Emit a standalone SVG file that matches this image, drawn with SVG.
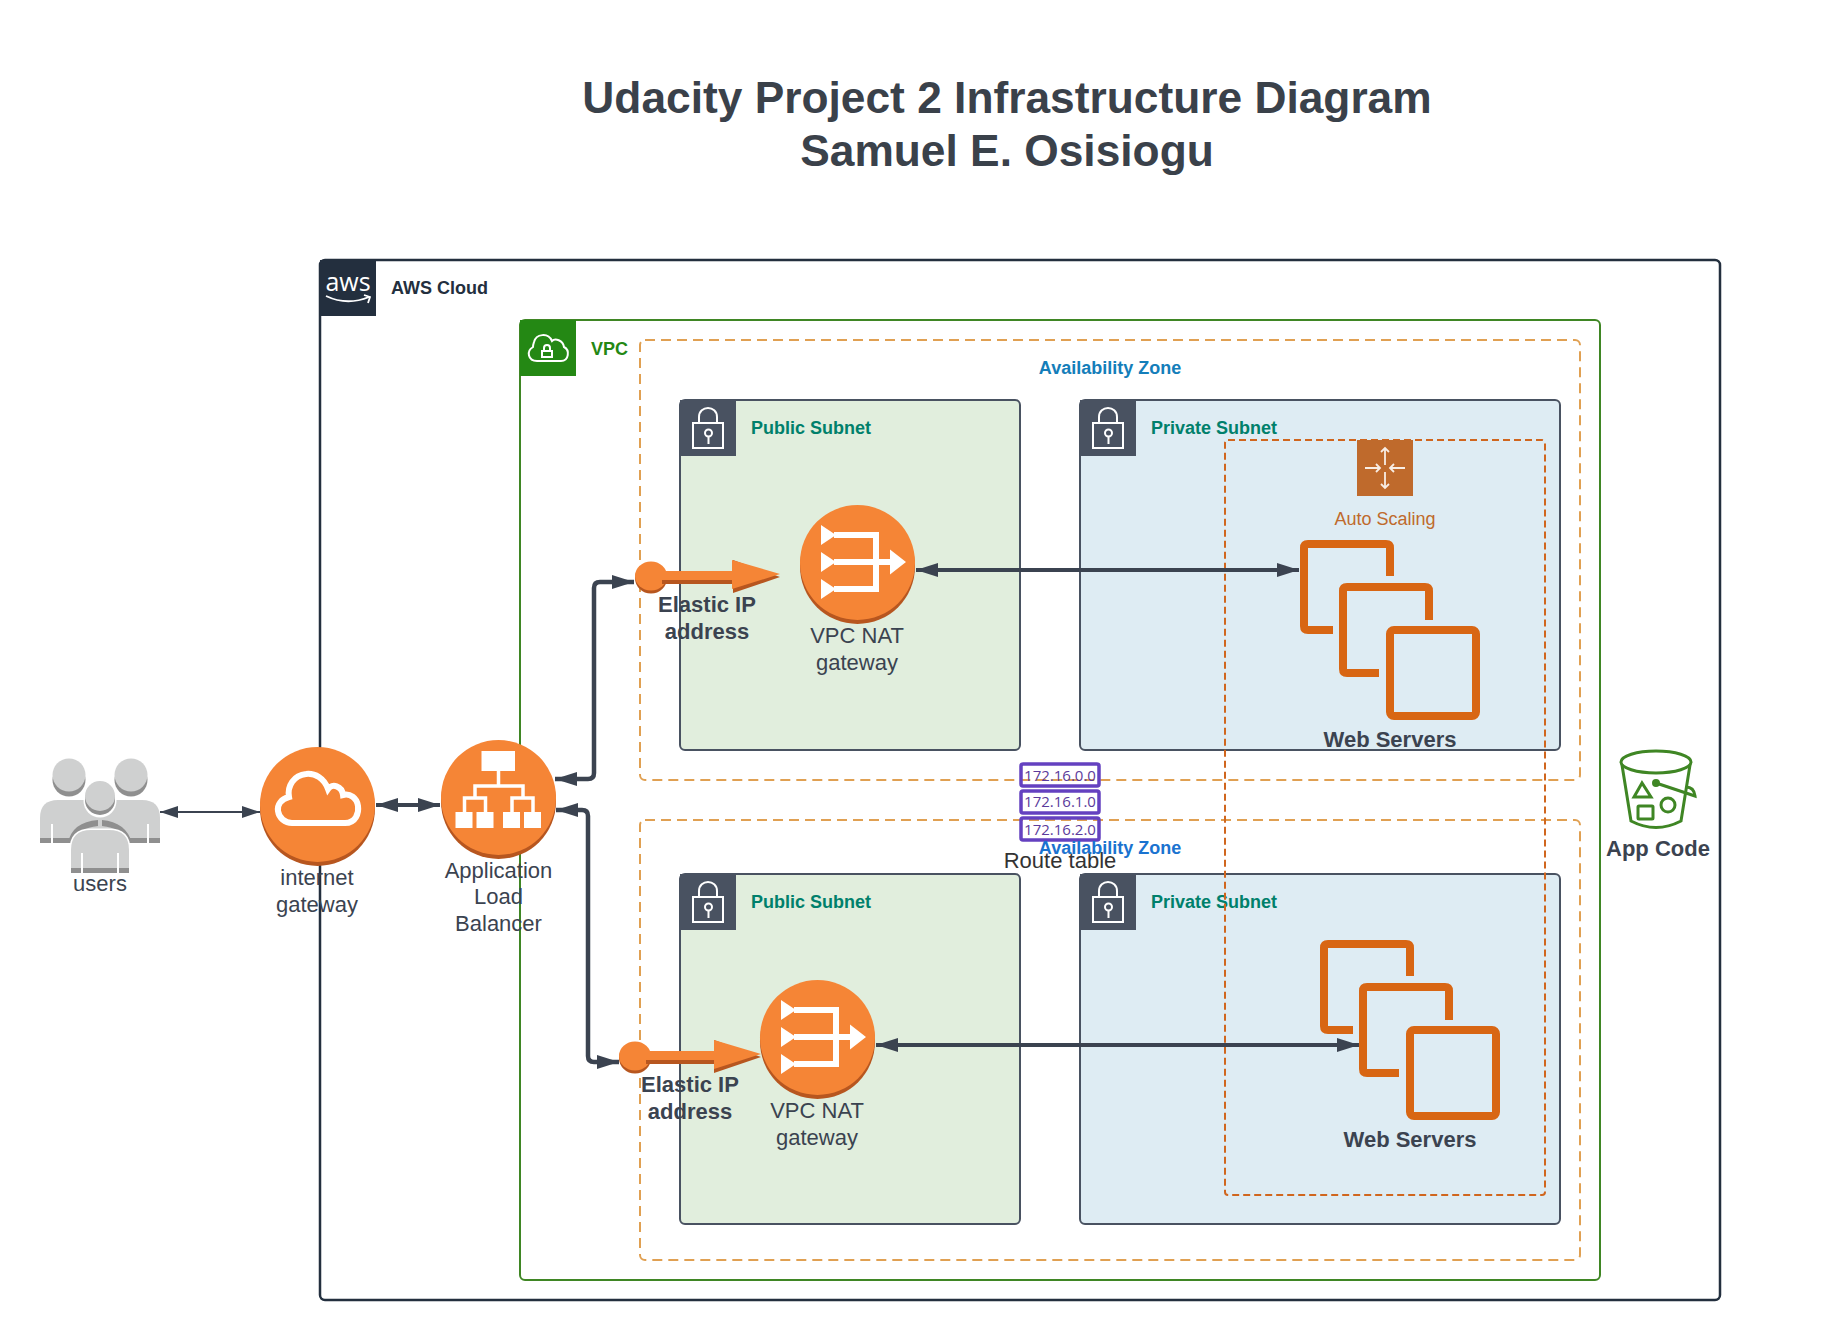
<svg xmlns="http://www.w3.org/2000/svg" xmlns:xlink="http://www.w3.org/1999/xlink" width="1831" height="1340" viewBox="0 0 1831 1340">
<style>
text{font-family:"Liberation Sans",Arial,sans-serif;fill:#3B4350}
.title{font-size:44.300px;font-weight:700;text-anchor:middle;fill:#3A414A}
.l{font-size:22px;text-anchor:middle}
.b{font-size:22px;font-weight:700;text-anchor:middle}
.g{font-size:18px;font-weight:700}
.sub{fill:#00806B}
.pub{fill:#E1EEDD;stroke:#495261;stroke-width:2}
.pri{fill:#DEECF3;stroke:#495261;stroke-width:2}
.az{fill:none;stroke:#E0A052;stroke-width:2;stroke-dasharray:10 6}
.tab{fill:#495261}
.ic{fill:none;stroke:#fff;stroke-width:2}
.rt{fill:none;stroke:#6441C0;stroke-width:3.500}
.rtt{font-family:"Open Sans","Liberation Sans",sans-serif;font-size:15px;text-anchor:middle;fill:#5B3A9B}
.ec2{fill:none;stroke:#D86613;stroke-width:8}
.conn{fill:none;stroke:#3B4350;stroke-linejoin:round}
.o{fill:#F58536}
.s{fill:#B7561F}
.w{fill:#fff}
.wl{fill:none;stroke:#fff;stroke-width:6}
.wa{fill:none;stroke:#fff;stroke-width:3.500}
.a{fill:none;stroke:#F8EDE4;stroke-width:1.800}
</style>
<defs>
<marker id="hs" viewBox="0 0 18 12" refX="18" refY="6" markerWidth="18" markerHeight="12" markerUnits="userSpaceOnUse" orient="auto-start-reverse"><path d="M0 0L18 6L0 12Z" fill="#3B4350"/></marker>
<marker id="hm" viewBox="0 0 22 14" refX="22" refY="7" markerWidth="22" markerHeight="14" markerUnits="userSpaceOnUse" orient="auto-start-reverse"><path d="M0 0L22 7L0 14Z" fill="#3B4350"/></marker>
<g id="lock"><rect class="tab" width="56" height="56"/><rect class="ic" x="13" y="23" width="30" height="25"/><path class="ic" d="M19 23V17C19 5 37 5 37 17V23"/><circle class="ic" cx="28.500" cy="33" r="3.500"/><path class="ic" d="M28.500 36.500V44"/></g>
<g id="ec2"><path class="ec2" d="M1333 630H1308Q1304 630 1304 626V548Q1304 544 1308 544H1386Q1390 544 1390 548V576"/><path class="ec2" d="M1379 673H1347Q1343 673 1343 669V591Q1343 587 1347 587H1425Q1429 587 1429 591V620"/><rect class="ec2" x="1390" y="630" width="86" height="86" rx="4"/></g>
<g id="natg"><circle class="s" cx="857.500" cy="566.500" r="57.500"/><circle class="o" cx="857.500" cy="562.500" r="57.500"/><path class="w" d="M821 525L836 535L821 545ZM821 552L836 562L821 572ZM821 579L836 589L821 599ZM890 549.500L906 562L890 574.500Z"/><path class="wl" d="M834 535H876V589H834M834 562H892"/></g>
</defs>
<g id="title"><text class="title" x="1007" y="113">Udacity Project 2 Infrastructure Diagram</text><text class="title" x="1007" y="166">Samuel E. Osisiogu</text></g>
<g id="aws-cloud"><rect x="320" y="260" width="1400" height="1040" rx="5" fill="#fff" stroke="#232F3E" stroke-width="2.500"/><rect x="320" y="260" width="56" height="56" fill="#232F3E"/><text x="348" y="291" style="font-family:'Open Sans',sans-serif;font-size:25px;fill:#fff;text-anchor:middle">aws</text><path d="M326 296Q347 306 369 297M364 295L370 297L368 303" fill="none" stroke="#fff" stroke-width="1.800"/><text class="g" x="391" y="294" style="fill:#232F3E">AWS Cloud</text></g>
<g id="vpc"><rect x="520" y="320" width="1080" height="960" rx="5" fill="#fff" stroke="#3F8624" stroke-width="2"/><rect x="520" y="320" width="56" height="56" fill="#248814"/><path class="ic" d="M537 361H561C569 361 570 350 564 347C563 340 555 338 552 341C548 332 536 334 534 342C533 345 533 346 533 347C526 351 528 361 537 361Z"/><rect class="ic" x="542" y="351" width="10" height="6"/><path class="ic" d="M544 351V348C544 344 550 344 550 348V351"/><text class="g" x="591" y="355" style="fill:#248814">VPC</text></g>
<g id="az1"><rect class="az" x="640" y="340" width="940" height="440" rx="5"/><text class="g" x="1110" y="374" style="fill:#147EBA;text-anchor:middle">Availability Zone</text></g>
<g id="az2"><rect class="az" x="640" y="820" width="940" height="440" rx="5"/></g>
<g id="public1"><rect class="pub" x="680" y="400" width="340" height="350" rx="5"/><use xlink:href="#lock" x="680" y="400"/><text class="g sub" x="751" y="434">Public Subnet</text></g>
<g id="private1"><rect class="pri" x="1080" y="400" width="480" height="350" rx="5"/><use xlink:href="#lock" x="1080" y="400"/><text class="g sub" x="1151" y="434">Private Subnet</text></g>
<g id="public2"><rect class="pub" x="680" y="874" width="340" height="350" rx="5"/><use xlink:href="#lock" x="680" y="874"/><text class="g sub" x="751" y="908">Public Subnet</text></g>
<g id="private2"><rect class="pri" x="1080" y="874" width="480" height="350" rx="5"/><use xlink:href="#lock" x="1080" y="874"/><text class="g sub" x="1151" y="908">Private Subnet</text></g>
<g id="auto-scaling"><rect x="1225" y="440" width="320" height="755" rx="3" fill="none" stroke="#D0661E" stroke-width="2" stroke-dasharray="7 4"/><rect x="1357" y="440" width="56" height="56" fill="#BF6A2C"/><path class="a" d="M1385 465V448M1381 452L1385 448L1389 452M1385 472V488M1381 484L1385 488L1389 484M1365 468H1380M1376 464L1380 468L1376 472M1405 468H1390M1394 464L1390 468L1394 472"/><text x="1385" y="525" style="font-size:18px;text-anchor:middle;fill:#BF6A2C">Auto Scaling</text></g>
<g id="connectors">
<path class="conn" stroke-width="2" d="M160 812H260" marker-start="url(#hs)" marker-end="url(#hs)"/>
<path class="conn" stroke-width="4" d="M376 805H440" marker-start="url(#hm)" marker-end="url(#hm)"/>
<path class="conn" stroke-width="4.500" d="M555 779H588Q594 779 594 773V588Q594 582 600 582H634" marker-start="url(#hm)" marker-end="url(#hm)"/>
<path class="conn" stroke-width="4.500" d="M556 810H582Q588 810 588 816V1056Q588 1062 594 1062H619" marker-start="url(#hm)" marker-end="url(#hm)"/>
<path class="conn" stroke-width="4" d="M916 570H1299" marker-start="url(#hm)" marker-end="url(#hm)"/>
<path class="conn" stroke-width="4" d="M876 1045H1359" marker-start="url(#hm)" marker-end="url(#hm)"/>
</g>
<g id="web-servers-1"><use xlink:href="#ec2"/><text class="b" x="1390" y="747">Web Servers</text></g>
<g id="web-servers-2"><use xlink:href="#ec2" x="20" y="400"/><text class="b" x="1410" y="1147">Web Servers</text></g>
<g id="nat1"><use xlink:href="#natg"/><text class="l" x="857" y="643">VPC NAT</text><text class="l" x="857" y="670">gateway</text></g>
<g id="nat2"><use xlink:href="#natg" x="-40" y="475"/><text class="l" x="817" y="1118">VPC NAT</text><text class="l" x="817" y="1145">gateway</text></g>
<g id="eip1"><ellipse class="s" cx="651" cy="578" rx="16" ry="15.500"/><ellipse class="o" cx="651" cy="576" rx="16" ry="14.500"/><path class="s" d="M662 575H733V560L780 577L733 593V584H662Z"/><path class="o" d="M662 571H732V560L780 574L732 589V580H662Z"/><text class="b" x="707" y="612">Elastic IP</text><text class="b" x="707" y="639">address</text></g>
<g id="eip2"><ellipse class="s" cx="635" cy="1058" rx="16" ry="15.500"/><ellipse class="o" cx="635" cy="1056" rx="16" ry="14.500"/><path class="s" d="M646 1055H714V1040L761 1057L714 1073V1064H646Z"/><path class="o" d="M646 1051H714V1040L761 1054L714 1069V1060H646Z"/><text class="b" x="690" y="1092">Elastic IP</text><text class="b" x="690" y="1119">address</text></g>
<g id="users"><circle cx="69" cy="780" r="16.500" fill="#8F8F8F"/><circle cx="69" cy="775" r="16.500" fill="#CFD0D0"/><circle cx="131" cy="780" r="16.500" fill="#8F8F8F"/><circle cx="131" cy="775" r="16.500" fill="#CFD0D0"/><path d="M40 843V818Q40 800 58 800H142Q160 800 160 818V843Z" fill="#CFD0D0"/><rect x="40" y="838" width="120" height="5" fill="#8F8F8F"/><path d="M52 824V843M148 824V843" stroke="#fff" stroke-width="2"/><path d="M68 843Q72 822 98 820V826Q78 828 74 843ZM102 820Q126 822 132 843H126Q122 828 102 826Z" fill="#8F8F8F"/><circle cx="100" cy="801" r="16.500" fill="#fff"/><circle cx="100" cy="800" r="15" fill="#8F8F8F"/><circle cx="100" cy="796" r="15" fill="#CFD0D0"/><path d="M71 873V850Q71 830 91 830H109Q129 830 129 850V873Z" fill="#CFD0D0" stroke="#fff" stroke-width="3"/><path d="M71 873V850Q71 830 91 830H109Q129 830 129 850V873Z" fill="#CFD0D0"/><rect x="71" y="868" width="58" height="5" fill="#8F8F8F"/><path d="M82 853V873M118 853V873" stroke="#fff" stroke-width="2"/><text class="l" x="100" y="891">users</text></g>
<g id="internet-gateway"><circle class="s" cx="317.500" cy="808.500" r="57.500"/><circle class="o" cx="317.500" cy="804.500" r="57.500"/><path class="wl" d="M292 823H345C356 823 359 813 358 806C357 798 350 793 343 795C342 786 332 783 328 789C324 778 315 773 306 774C294 775 287 786 289 797C281 799 277 805 278 811C279 818 285 823 292 823Z"/><text class="l" x="317" y="885">internet</text><text class="l" x="317" y="912">gateway</text></g>
<g id="load-balancer"><circle class="s" cx="498.500" cy="801.500" r="57.500"/><circle class="o" cx="498.500" cy="797.500" r="57.500"/><path class="w" d="M481.500 751H515V771H481.500ZM455.500 812H472.500V828H455.500ZM476.500 812H493.500V828H476.500ZM503 812H520V828H503ZM524 812H541V828H524Z"/><path class="wa" d="M498.500 771V786M475 798V786H523V798M464.500 812V798H485.500V812M512 812V798H533V812"/><text class="l" x="498.500" y="878">Application</text><text class="l" x="498.500" y="904">Load</text><text class="l" x="498.500" y="931">Balancer</text></g>
<g id="route-table"><rect class="rt" x="1021" y="764" width="78" height="22" rx="2"/><text class="rtt" x="1060" y="781">172.16.0.0</text><rect class="rt" x="1021" y="791" width="78" height="22" rx="2"/><text class="rtt" x="1060" y="807">172.16.1.0</text><rect class="rt" x="1021" y="818" width="78" height="22" rx="2"/><text class="rtt" x="1060" y="835">172.16.2.0</text><text x="1060" y="868" style="font-size:22px;text-anchor:middle;fill:#333">Route table</text><text class="g" x="1110" y="854" style="fill:#1A73D0;text-anchor:middle">Availability Zone</text></g>
<g id="app-code" fill="none" stroke="#3F8624" stroke-width="3"><ellipse cx="1656" cy="762" rx="35" ry="11"/><path d="M1622 765L1631 821Q1656 834 1681 821L1690 765"/><path d="M1642 783L1634 797H1651Z"/><rect x="1638" y="806" width="15" height="13" rx="1"/><circle cx="1668" cy="805" r="7"/><path d="M1656 783L1695 796Q1694 787 1686 787"/><circle cx="1656" cy="783" r="2.500" fill="#3F8624"/><text class="b" x="1658" y="856" stroke="none" style="fill:#3B4350">App Code</text></g>
</svg>
